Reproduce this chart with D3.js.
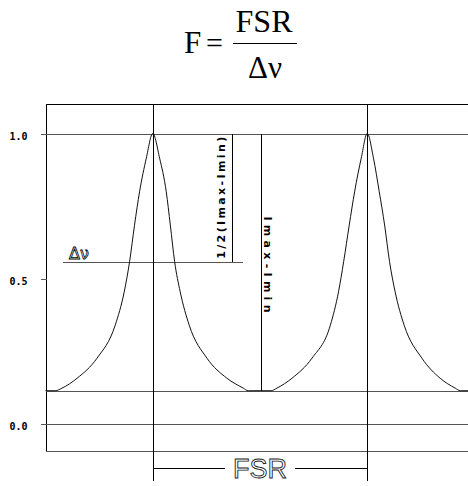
<!DOCTYPE html>
<html>
<head>
<meta charset="utf-8">
<script src="https://cdn.jsdelivr.net/npm/d3@7"></script>
<style>
  body { margin: 0; background: #fff; }
  svg { display: block; }
</style>
</head>
<body>
<svg width="468" height="486"></svg>
<script>
// transmission trace
// x is in units of the free spectral range (peak 1 at 0, peak 2 at 1)
var traceX = [-0.5, -0.455, -0.423, -0.353, -0.260, -0.175, -0.133, -0.108, -0.085, -0.0615, -0.030, 0,
              0.032, 0.063, 0.082, 0.102, 0.128, 0.170, 0.253, 0.346, 0.422, 0.445,
              0.552, 0.579, 0.649, 0.742, 0.828, 0.866, 0.890, 0.916, 0.941, 0.972, 1.0,
              1.029, 1.056, 1.081, 1.104, 1.130, 1.172, 1.255, 1.340, 1.410, 1.434, 1.5];
var traceI = [0.113, 0.113, 0.122, 0.156, 0.225, 0.339, 0.454, 0.558, 0.684, 0.799, 0.915, 1.0,
              0.915, 0.799, 0.684, 0.558, 0.454, 0.339, 0.225, 0.156, 0.122, 0.113,
              0.113, 0.122, 0.156, 0.225, 0.339, 0.454, 0.558, 0.684, 0.799, 0.915, 1.0,
              0.915, 0.799, 0.684, 0.558, 0.454, 0.339, 0.225, 0.156, 0.122, 0.113, 0.113];

var tickValues = [0.0, 0.5, 1.0];
var tickLabels = ["0.0", "0.5", "1.0"];
var peaks = [0, 1];
var Imax = 1.0;
var Imin = 0.113;

var svg = d3.select('svg');

var x = d3.scaleLinear().domain([-0.5, 1.5]).range([45.5, 474.5]);
var y = d3.scaleLinear().domain([0, 1]).range([423.5, 133.5]);

var gridColor = '#555';

function hline(v, x0, x1, color) {
    svg.append('line')
        .attr('x1', x0).attr('x2', x1)
        .attr('y1', Math.round(y(v)) + 0.5).attr('y2', Math.round(y(v)) + 0.5)
        .attr('stroke', color || gridColor)
        .attr('shape-rendering', 'crispEdges');
}
function vline(u, v0, v1, color) {
    svg.append('line')
        .attr('x1', Math.round(x(u)) + 0.5).attr('x2', Math.round(x(u)) + 0.5)
        .attr('y1', y(v0)).attr('y2', y(v1))
        .attr('stroke', color || '#000')
        .attr('shape-rendering', 'crispEdges');
}

// formula
var formula = svg.append('g').attr('font-family', '"Liberation Serif", "Times New Roman", serif').attr('fill', '#000');
formula.append('text').attr('x', 184).attr('y', 53).attr('font-size', 31).text('F');
formula.append('text').attr('x', 206).attr('y', 53).attr('font-size', 30).text('=');
formula.append('text').attr('x', 264).attr('y', 32).attr('font-size', 32).attr('text-anchor', 'middle').text('FSR');
formula.append('text').attr('x', 265).attr('y', 78).attr('font-size', 31).attr('text-anchor', 'middle').text('Δν');
formula.append('line').attr('x1', 233).attr('x2', 297).attr('y1', 43.5).attr('y2', 43.5)
    .attr('stroke', '#000').attr('stroke-width', 1.2);

// frame
var frameTop = 1.102, frameBottom = -0.095;
hline(frameTop, x(-0.5), 468, '#000');
hline(frameBottom, x(-0.5), 468, gridColor);
vline(-0.5, frameTop, frameBottom);

// horizontal reference lines
hline(Imax, x(-0.5), 468);
hline(Imin, x(-0.5), 468);
hline(0, x(-0.5), 468);
var half = (Imax + Imin) / 2;
hline(half, x(-0.417), x(0.423));

// y axis
var yAxis = d3.axisLeft(y)
    .tickValues(tickValues)
    .tickSize(6)
    .tickPadding(13)
    .tickFormat(function (d, i) { return tickLabels[i]; });
var axisG = svg.append('g')
    .attr('transform', 'translate(' + (Math.round(x(-0.5)) + 0.5) + ',0)')
    .call(yAxis);
axisG.select('.domain').remove();
axisG.selectAll('.tick line').attr('stroke', gridColor).attr('shape-rendering', 'crispEdges');
axisG.selectAll('.tick text')
    .attr('font-family', '"DejaVu Sans Mono", monospace')
    .attr('font-size', 10)
    .attr('font-weight', 'bold')
    .attr('dy', '0.62em')
    .attr('fill', '#000');

// peak markers
peaks.forEach(function (p) { vline(p, frameTop, -0.197); });

// annotation lines
vline(0.371, Imax, half);
vline(0.506, Imax, Imin);

// trace
var line = d3.line()
    .x(function (d, i) { return x(traceX[i]); })
    .y(function (d) { return y(d); })
    .curve(d3.curveMonotoneX);
svg.append('path')
    .datum(traceI)
    .attr('d', line)
    .attr('fill', 'none')
    .attr('stroke', '#111')
    .attr('stroke-width', 1);

// labels
svg.append('text')
    .attr('x', x(-0.39)).attr('y', y(half) - 3)
    .attr('font-family', '"DejaVu Sans", sans-serif')
    .attr('font-size', 16)
    .attr('fill', '#fff').attr('stroke', '#000').attr('stroke-width', 0.8)
    .text('Δν');

svg.append('text')
    .attr('transform', 'translate(' + (x(0.371) - 11) + ',' + ((y(Imax) + y(half)) / 2) + ') rotate(-90)')
    .attr('text-anchor', 'middle')
    .attr('dominant-baseline', 'central')
    .attr('font-family', '"DejaVu Sans", sans-serif')
    .attr('font-size', 11)
    .attr('font-weight', 'bold')
    .attr('textLength', 122).attr('lengthAdjust', 'spacing')
    .text('1/2(Imax-Imin)');

svg.append('text')
    .attr('transform', 'translate(' + (x(0.506) + 6) + ',' + 264.5 + ') rotate(90)')
    .attr('text-anchor', 'middle')
    .attr('dominant-baseline', 'central')
    .attr('font-family', '"DejaVu Sans", sans-serif')
    .attr('font-size', 11)
    .attr('font-weight', 'bold')
    .attr('textLength', 96).attr('lengthAdjust', 'spacing')
    .text('Imax-Imin');

// FSR bracket
var bracketV = -0.155;
var fsr = svg.append('text')
    .attr('x', x(0.5)).attr('y', y(bracketV) + 1)
    .attr('text-anchor', 'middle')
    .attr('dominant-baseline', 'central')
    .attr('font-family', '"Liberation Sans", Arial, sans-serif')
    .attr('font-size', 27)
    .attr('fill', '#fff').attr('stroke', '#222').attr('stroke-width', 0.9)
    .text('FSR');
var gap = fsr.node().getComputedTextLength() / 2 + 8;
hline(bracketV, x(0), x(0.5) - gap, '#000');
hline(bracketV, x(0.5) + gap, x(1), '#000');
</script>
</body>
</html>
